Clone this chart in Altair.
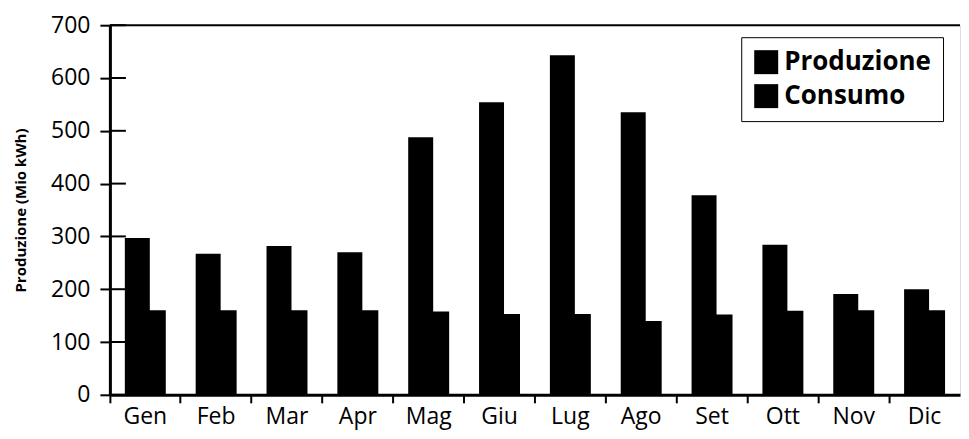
import altair as alt
import pandas as pd

mesi = ["Gen", "Feb", "Mar", "Apr", "Mag", "Giu", "Lug", "Ago", "Set", "Ott", "Nov", "Dic"]
produzione = [297, 267, 282, 270, 488, 554, 643, 535, 378, 284, 191, 200]
consumo = [160, 160, 160, 160, 158, 153, 153, 140, 152, 159, 160, 160]
serie = ["Produzione", "Consumo"]
y_ticks = [0, 100, 200, 300, 400, 500, 600, 700]

df_p = pd.DataFrame({"mese": mesi, "valore": produzione, "serie": serie[0]})
df_c = pd.DataFrame({"mese": mesi, "valore": consumo, "serie": serie[1]})
df_t = pd.DataFrame({"v": y_ticks})

FONT = "Open Sans"

x_enc = alt.X(
    "mese:N", sort=mesi, title=None,
    scale=alt.Scale(paddingInner=0, paddingOuter=0),
    axis=alt.Axis(labelAngle=0, labelFontSize=23, labelFont=FONT, labelColor="black",
                  bandPosition=0, tickSize=8, tickWidth=2, tickColor="black",
                  domainWidth=3, domainColor="black", labelPadding=3),
)
y_enc = alt.Y(
    "valore:Q", title="Produzione (Mio kWh)",
    scale=alt.Scale(domain=[0, 700], nice=False),
    axis=alt.Axis(values=y_ticks, labelFontSize=23, labelFont=FONT, labelColor="black",
                  tickSize=10, tickWidth=2, tickColor="black", domainWidth=3,
                  domainColor="black", grid=False, labelPadding=10,
                  titleFont=FONT, titleFontSize=15, titleFontWeight="bold",
                  titleColor="black", titlePadding=22),
)
color_enc = alt.Color(
    "serie:N",
    scale=alt.Scale(domain=serie, range=["black", "black"]),
    legend=alt.Legend(title=None, orient="none", legendX=632, legendY=12,
                      symbolType="square", symbolSize=576, symbolStrokeWidth=0,
                      labelFontSize=26, labelFontWeight="bold", labelFont=FONT,
                      labelColor="black", strokeColor="black", padding=12,
                      rowPadding=8, labelOffset=5),
)

prod = alt.Chart(df_p).mark_bar(width=25, xOffset=-8).encode(x=x_enc, y=y_enc, color=color_enc)
cons = alt.Chart(df_c).mark_bar(width=17, xOffset=12).encode(x=x_enc, y=y_enc, color=color_enc)

top = alt.Chart(df_t).transform_filter(alt.datum.v == 700).mark_rule(
    color="black", strokeWidth=2).encode(y=alt.Y("v:Q"))
inner_ticks = alt.Chart(df_t).mark_rule(color="black", strokeWidth=2).encode(
    y=alt.Y("v:Q"), x=alt.value(0), x2=alt.value(16))

chart = alt.layer(prod, cons, inner_ticks, top).properties(
    width=851, height=370,
    padding={"left": 5, "top": 6, "right": 0, "bottom": 3},
).configure_view(stroke=None).configure(background="white")

chart.save("out.html", embed_options={"renderer": "svg", "actions": False})
